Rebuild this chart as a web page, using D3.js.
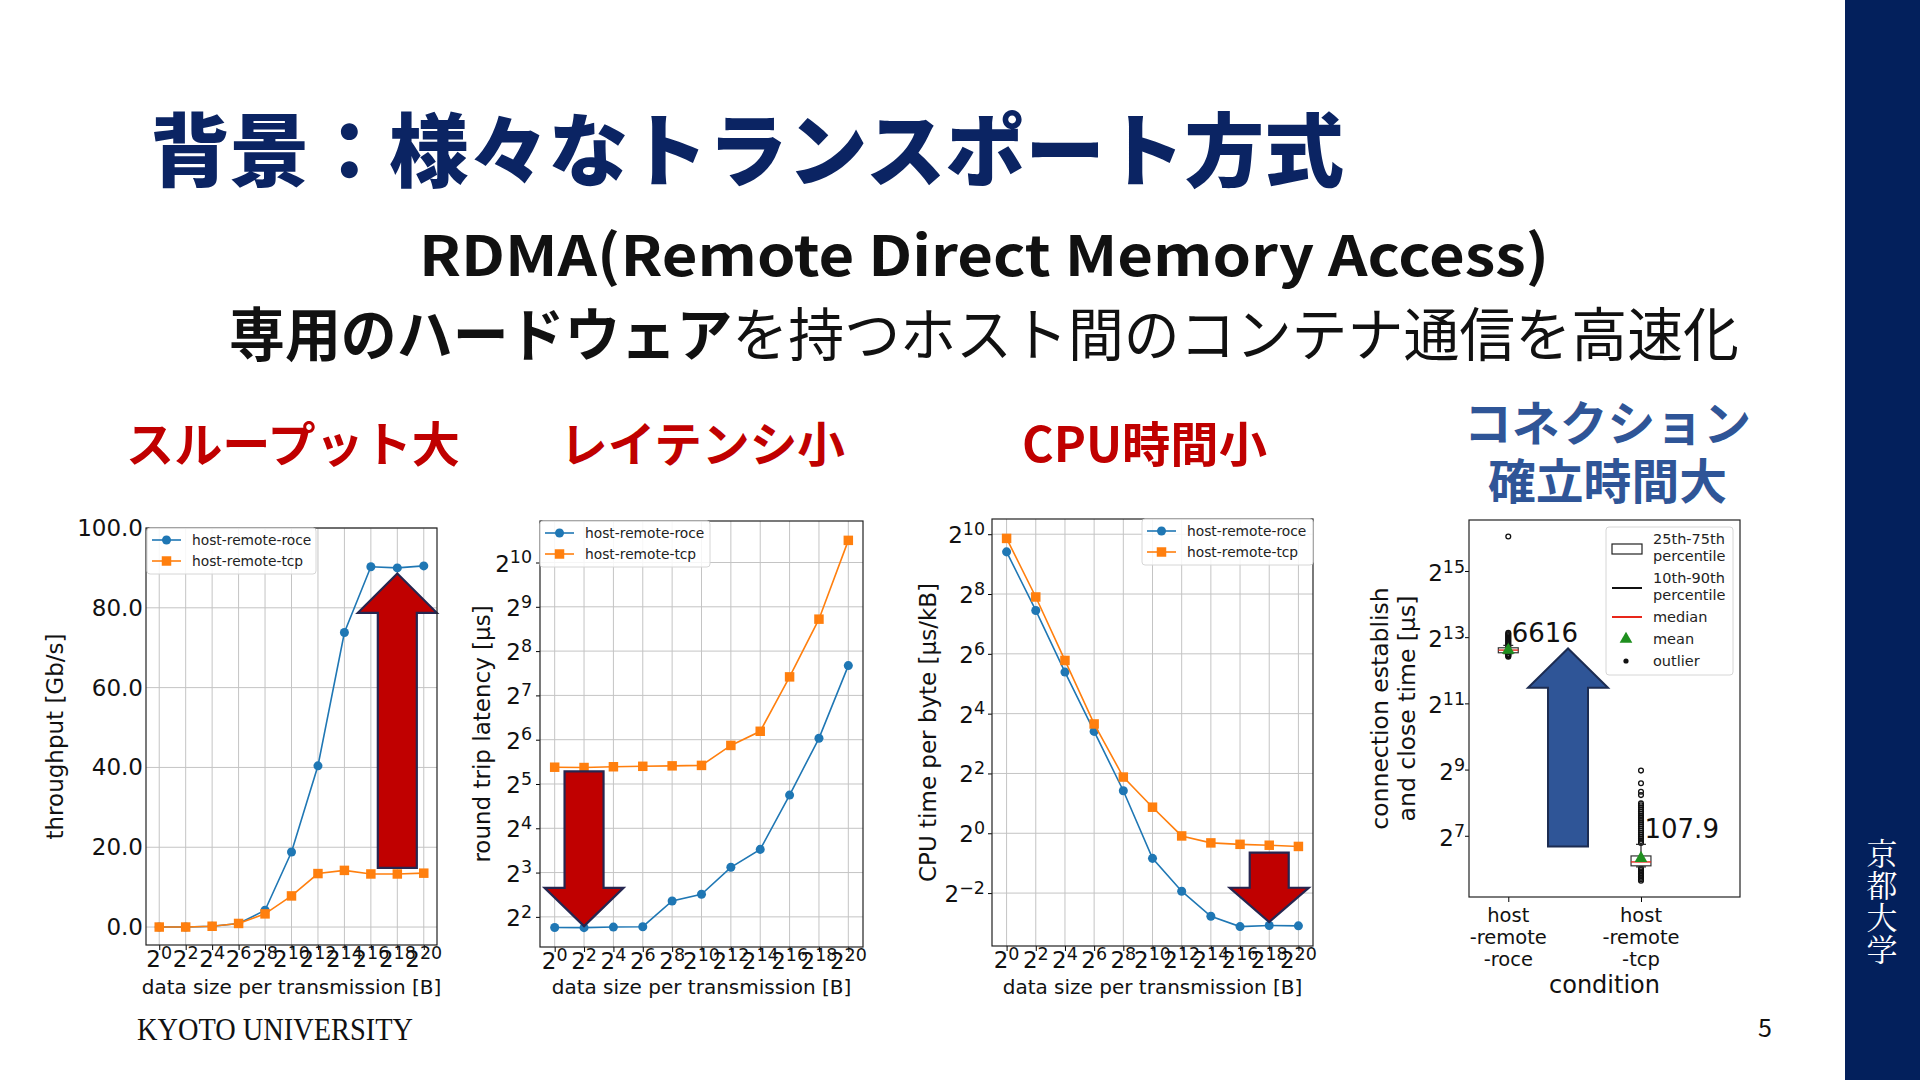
<!DOCTYPE html>
<html>
<head>
<meta charset="utf-8">
<script src="https://cdn.jsdelivr.net/npm/d3@7"></script>
<style>
  body { margin: 0; background: #fff; }
  svg { display: block; }
</style>
</head>
<body>
<svg id="slide" width="1920" height="1080"></svg>
<script>
// ---- data ----
const dataSizes = [1, 4, 16, 64, 256, 1024, 4096, 16384, 65536, 262144, 1048576];
const sizeExps = [0, 2, 4, 6, 8, 10, 12, 14, 16, 18, 20];
const seriesNames = ["host-remote-roce", "host-remote-tcp"];

const throughputRoce = [0.0, 0.0, 0.2, 0.9, 4.2, 18.8, 40.4, 73.8, 90.3, 90.0, 90.5];
const throughputTcp = [0.0, 0.0, 0.2, 0.9, 3.3, 7.8, 13.4, 14.2, 13.3, 13.3, 13.5];
const throughputTicks = [0, 20, 40, 60, 80, 100];

const latencyRoce = [3.39, 3.38, 3.41, 3.43, 5.13, 5.70, 8.69, 11.5, 26.9, 65.4, 204];
const latencyTcp = [41.6, 41.4, 41.9, 42.2, 42.5, 42.8, 58.5, 73.0, 171, 422, 1448];
const latencyTickExps = [2, 3, 4, 5, 6, 7, 8, 9, 10];

const cpuRoce = [680, 175, 41.9, 10.6, 2.68, 0.559, 0.261, 0.146, 0.115, 0.118, 0.117];
const cpuTcp = [929, 239, 54.9, 12.6, 3.68, 1.83, 0.94, 0.80, 0.774, 0.758, 0.737];
const cpuTickExps = [-2, 0, 2, 4, 6, 8, 10];

const boxCategories = [["host", "-remote", "-roce"], ["host", "-remote", "-tcp"]];
const boxQ1 = [5910, 68.2];
const boxQ3 = [6560, 83.9];
const boxMedian = [6250, 74];
const boxWhiskerLo = [5800, 66.7];
const boxWhiskerHi = [6900, 107];
const boxMeanMarker = [6250, 80];
const boxMeanText = ["6616", "107.9"];
const boxMeanValue = [6616, 107.9];
const roceOutliers = [67400, 8960, 8750, 8550, 8350, 8150, 7950, 7760, 7580, 7400, 7220, 7050, 6880, 6720,
  5800, 5700, 5600, 5520, 5440];
const tcpOutliers = [64.5, 62.5, 60.5, 58.5, 56.5, 54.7, 53, 51.5, 50,
  110, 115, 120, 125, 131, 137, 143, 149, 156, 163, 170, 178, 186, 194, 203, 212, 222, 232, 242, 252,
  300, 322, 385, 501];
const boxTickExps = [7, 9, 11, 13, 15];

const colors = { roce: "#1f77b4", tcp: "#ff7f0e", navy: "#0b2463", red: "#c00000", blue: "#2f5597" };
const jp = "'Noto Sans CJK JP', sans-serif";
const dv = "'DejaVu Sans', sans-serif";

const svg = d3.select("#slide");
svg.append("rect").attr("width", 1920).attr("height", 1080).attr("fill", "#fff");

// right band
svg.append("rect").attr("x", 1845).attr("y", 0).attr("width", 75).attr("height", 1080).attr("fill", "#03205c");
const kyoto = svg.append("text").attr("fill", "#fff").attr("font-family", "'Noto Serif CJK JP', " + jp)
  .attr("font-size", 31).attr("text-anchor", "middle");
["京", "都", "大", "学"].forEach((c, i) => {
  kyoto.append("tspan").attr("x", 1882).attr("y", 865 + i * 32).text(c);
});

// headings
svg.append("text").attr("x", 150).attr("y", 145).attr("dominant-baseline", "central")
  .attr("font-family", jp).attr("font-weight", 900).attr("font-size", 80).attr("fill", colors.navy)
  .attr("textLength", 1194).attr("lengthAdjust", "spacingAndGlyphs")
  .text("背景：様々なトランスポート方式");

svg.append("text").attr("x", 984).attr("y", 251).attr("dominant-baseline", "central").attr("text-anchor", "middle")
  .attr("font-family", jp).attr("font-weight", 700).attr("font-size", 56).attr("fill", "#111")
  .attr("textLength", 1130).attr("lengthAdjust", "spacingAndGlyphs")
  .text("RDMA(Remote Direct Memory Access)");

const sub = svg.append("text").attr("x", 229).attr("y", 331).attr("dominant-baseline", "central")
  .attr("font-family", jp).attr("font-size", 58).attr("fill", "#111")
  .attr("textLength", 1510).attr("lengthAdjust", "spacingAndGlyphs");
sub.append("tspan").attr("font-weight", 700).text("専用のハードウェア");
sub.append("tspan").attr("font-weight", 400).text("を持つホスト間のコンテナ通信を高速化");

const heads = [
  { t: "スループット大", x: 126, y: 441, w: 334, c: colors.red },
  { t: "レイテンシ小", x: 560, y: 441, w: 285, c: colors.red },
  { t: "CPU時間小", x: 1022, y: 441, w: 245, c: colors.red },
  { t: "コネクション", x: 1464, y: 420, w: 287, c: colors.blue },
  { t: "確立時間大", x: 1488, y: 478, w: 239, c: colors.blue }
];
heads.forEach(h => {
  svg.append("text").attr("x", h.x).attr("y", h.y).attr("dominant-baseline", "central")
    .attr("font-family", jp).attr("font-weight", 700).attr("font-size", 48).attr("fill", h.c)
    .attr("textLength", h.w).attr("lengthAdjust", "spacingAndGlyphs").text(h.t);
});

svg.append("text").attr("x", 137).attr("y", 1040).attr("font-family", "'Liberation Serif', serif")
  .attr("font-size", 31).attr("fill", "#111").attr("textLength", 276).attr("lengthAdjust", "spacingAndGlyphs")
  .text("KYOTO UNIVERSITY");
svg.append("text").attr("x", 1765).attr("y", 1037).attr("text-anchor", "middle").attr("font-family", jp)
  .attr("font-size", 25).attr("fill", "#111").text("5");

// ---- helpers ----
// "2" with a raised exponent, like matplotlib's mathtext tick labels
function powLabel(text, exp, fs) {
  text.append("tspan").text("2");
  text.append("tspan").attr("font-size", fs * 0.76).attr("dy", -fs * 0.36)
    .text(String(exp).replace("-", "\u2212"));
}

function arrowPath(cx, yTail, yBase, yTip, shaftW, headW) {
  return `M${cx - shaftW / 2},${yTail} L${cx - shaftW / 2},${yBase} L${cx - headW / 2},${yBase} ` +
    `L${cx},${yTip} L${cx + headW / 2},${yBase} L${cx + shaftW / 2},${yBase} L${cx + shaftW / 2},${yTail} Z`;
}

function lineChart(cfg) {
  const { l, r, t, b } = cfg.box;
  const g = svg.append("g");
  const x = d3.scaleLog().base(2).domain([2 ** -1, 2 ** 21]).range([l, r]);
  let y;
  if (cfg.log) {
    const all = cfg.series.flatMap(s => s.values).map(Math.log2);
    const lo = d3.min(all), hi = d3.max(all), pad = (hi - lo) * 0.05;
    y = d3.scaleLog().base(2).domain([2 ** (lo - pad), 2 ** (hi + pad)]).range([b, t]);
  } else {
    y = d3.scaleLinear().domain(cfg.yDomain).range([b, t]);
  }
  const yTickVals = cfg.log ? cfg.yTickExps.map(e => 2 ** e) : cfg.yTicks;

  // grid
  g.append("g").selectAll("line").data(dataSizes).join("line")
    .attr("x1", d => x(d)).attr("x2", d => x(d)).attr("y1", t).attr("y2", b)
    .attr("stroke", "#c4c4c4").attr("stroke-width", 1);
  g.append("g").selectAll("line").data(yTickVals).join("line")
    .attr("x1", l).attr("x2", r).attr("y1", d => y(d)).attr("y2", d => y(d))
    .attr("stroke", "#c4c4c4").attr("stroke-width", 1);

  // axes (tick marks only, labels below)
  g.append("g").attr("transform", `translate(0,${b})`)
    .call(d3.axisBottom(x).tickValues(dataSizes).tickSize(5).tickFormat(() => ""))
    .call(a => a.select(".domain").remove());
  g.append("g").attr("transform", `translate(${l},0)`)
    .call(d3.axisLeft(y).tickValues(yTickVals).tickSize(cfg.yTickLen).tickFormat(() => ""))
    .call(a => a.select(".domain").remove());

  // x tick labels
  dataSizes.forEach((d, i) => {
    const tx = g.append("text").attr("x", x(d)).attr("y", b + 22).attr("text-anchor", "middle")
      .attr("font-family", dv).attr("font-size", 23).attr("fill", "#111");
    powLabel(tx, sizeExps[i], 23);
  });
  // y tick labels
  yTickVals.forEach((d, i) => {
    const ty = g.append("text").attr("x", l - cfg.yLabelGap).attr("text-anchor", "end")
      .attr("font-family", dv).attr("font-size", 23).attr("fill", "#111");
    if (cfg.log) {
      ty.attr("y", y(d) + 9);
      powLabel(ty, cfg.yTickExps[i], 23);
    } else {
      ty.attr("y", y(d) + 8).text(d3.format(".1f")(d));
    }
  });

  // axis titles
  g.append("text").attr("x", (l + r) / 2).attr("y", 987).attr("dominant-baseline", "central")
    .attr("text-anchor", "middle").attr("font-family", dv).attr("font-size", 20).attr("fill", "#111")
    .text("data size per transmission [B]");
  g.append("text").attr("transform", `translate(${cfg.yTitleX},${(t + b) / 2}) rotate(-90)`)
    .attr("dominant-baseline", "central").attr("text-anchor", "middle")
    .attr("font-family", dv).attr("font-size", 23).attr("fill", "#111").text(cfg.yTitle);

  // series
  const line = d3.line().x((d, i) => x(dataSizes[i])).y(d => y(d));
  cfg.series.forEach(s => {
    g.append("path").attr("d", line(s.values)).attr("fill", "none")
      .attr("stroke", s.color).attr("stroke-width", 1.6);
    const m = g.append("g").selectAll("path").data(s.values).join("path")
      .attr("transform", (d, i) => `translate(${x(dataSizes[i])},${y(d)})`)
      .attr("fill", s.color);
    if (s.marker === "circle") m.attr("d", d3.symbol(d3.symbolCircle, 64)());
    else m.attr("d", d3.symbol(d3.symbolSquare, 90)());
  });

  // arrow annotation
  const a = cfg.arrow;
  g.append("path")
    .attr("d", arrowPath(x(a.at), y(a.tail), y(a.base), y(a.tip), 39, 79))
    .attr("fill", a.fill).attr("stroke", "#262650").attr("stroke-width", 2.2);

  // frame
  g.append("rect").attr("x", l).attr("y", t).attr("width", r - l).attr("height", b - t)
    .attr("fill", "none").attr("stroke", "#222").attr("stroke-width", 1.2);

  // legend
  const L = cfg.legend;
  const lg = g.append("g").attr("transform", `translate(${L.x},${L.y})`);
  lg.append("rect").attr("width", L.w).attr("height", 46).attr("rx", 3)
    .attr("fill", "#fff").attr("fill-opacity", 0.85).attr("stroke", "#d6d6d6");
  cfg.series.forEach((s, i) => {
    const yy = 12 + i * 21;
    lg.append("line").attr("x1", 5).attr("x2", 34).attr("y1", yy).attr("y2", yy)
      .attr("stroke", s.color).attr("stroke-width", 1.6);
    lg.append("path").attr("transform", `translate(19.5,${yy})`).attr("fill", s.color)
      .attr("d", d3.symbol(s.marker === "circle" ? d3.symbolCircle : d3.symbolSquare, s.marker === "circle" ? 64 : 90)());
    lg.append("text").attr("x", 45).attr("y", yy).attr("dominant-baseline", "central")
      .attr("font-family", dv).attr("font-size", 13.8).attr("fill", "#222").text(seriesNames[i]);
  });
}

const seriesOf = (roce, tcp) => [
  { values: roce, color: colors.roce, marker: "circle" },
  { values: tcp, color: colors.tcp, marker: "square" }
];

lineChart({
  box: { l: 146, r: 437, t: 528, b: 945 }, log: false, yDomain: [-4.5, 100], yTicks: throughputTicks,
  yTickLen: 0, yLabelGap: 3, yTitle: "throughput [Gb/s]", yTitleX: 55,
  series: seriesOf(throughputRoce, throughputTcp),
  legend: { x: 147, y: 528, w: 169 },
  arrow: { at: 2 ** 18, tail: 14.85, base: 78.75, tip: 88.6, fill: colors.red }
});

lineChart({
  box: { l: 540, r: 863, t: 521, b: 947 }, log: true, yTickExps: latencyTickExps,
  yTickLen: 4, yLabelGap: 8, yTitle: "round trip latency [μs]", yTitleX: 482,
  series: seriesOf(latencyRoce, latencyTcp),
  legend: { x: 540, y: 521, w: 170 },
  arrow: { at: 4, tail: 39, base: 6.3, tip: 3.46, fill: colors.red }
});

lineChart({
  box: { l: 992, r: 1313, t: 519, b: 946 }, log: true, yTickExps: cpuTickExps,
  yTickLen: 4, yLabelGap: 7, yTitle: "CPU time per byte [μs/kB]", yTitleX: 928,
  series: seriesOf(cpuRoce, cpuTcp),
  legend: { x: 1142, y: 519, w: 171 },
  arrow: { at: 2 ** 18, tail: 0.64, base: 0.283, tip: 0.128, fill: colors.red }
});

// ---- box plot ----
(function boxChart() {
  const l = 1469, r = 1740, t = 520, b = 897;
  const g = svg.append("g");
  const x = d3.scaleLinear().domain([0.704, 2.746]).range([l, r]);
  const y = d3.scaleLog().base(2).domain([2 ** 5.15, 2 ** 16.54]).range([b, t]);
  const yTickVals = boxTickExps.map(e => 2 ** e);

  g.append("g").attr("transform", `translate(0,${b})`)
    .call(d3.axisBottom(x).tickValues([1, 2]).tickSize(5).tickFormat(() => ""))
    .call(a => a.select(".domain").remove());
  g.append("g").attr("transform", `translate(${l},0)`)
    .call(d3.axisLeft(y).tickValues(yTickVals).tickSize(4).tickFormat(() => ""))
    .call(a => a.select(".domain").remove());

  yTickVals.forEach((d, i) => {
    const ty = g.append("text").attr("x", l - 4).attr("y", y(d) + 10).attr("text-anchor", "end")
      .attr("font-family", dv).attr("font-size", 23).attr("fill", "#111");
    powLabel(ty, boxTickExps[i], 23);
  });
  boxCategories.forEach((lines, i) => {
    const tx = g.append("text").attr("text-anchor", "middle").attr("font-family", dv)
      .attr("font-size", 19.5).attr("fill", "#111");
    lines.forEach((s, k) => tx.append("tspan").attr("x", x(i + 1)).attr("y", 922 + k * 22).text(s));
  });
  g.append("text").attr("x", (l + r) / 2).attr("y", 993).attr("text-anchor", "middle")
    .attr("font-family", dv).attr("font-size", 24).attr("fill", "#111").text("condition");
  const yt = g.append("text").attr("transform", `translate(1380,${(t + b) / 2}) rotate(-90)`)
    .attr("text-anchor", "middle").attr("dominant-baseline", "central")
    .attr("font-family", dv).attr("font-size", 23.5).attr("fill", "#111");
  yt.append("tspan").attr("x", 0).attr("y", 0).text("connection establish");
  yt.append("tspan").attr("x", 0).attr("y", 27).text("and close time [μs]");

  const outliers = [roceOutliers, tcpOutliers];
  const bw = 0.15, cw = 0.075;
  [0, 1].forEach(i => {
    const cx = x(i + 1);
    // fliers
    g.append("g").selectAll("circle").data(outliers[i]).join("circle")
      .attr("cx", cx).attr("cy", d => y(d)).attr("r", 2.4)
      .attr("fill", "none").attr("stroke", "#111").attr("stroke-width", 1.3);
    // whiskers
    g.append("line").attr("x1", cx).attr("x2", cx).attr("y1", y(boxQ3[i])).attr("y2", y(boxWhiskerHi[i]))
      .attr("stroke", "#222").attr("stroke-width", 1.2);
    g.append("line").attr("x1", cx).attr("x2", cx).attr("y1", y(boxQ1[i])).attr("y2", y(boxWhiskerLo[i]))
      .attr("stroke", "#222").attr("stroke-width", 1.2);
    [boxWhiskerHi[i], boxWhiskerLo[i]].forEach(v => {
      g.append("line").attr("x1", x(i + 1 - cw / 2)).attr("x2", x(i + 1 + cw / 2))
        .attr("y1", y(v)).attr("y2", y(v)).attr("stroke", "#222").attr("stroke-width", 1.2);
    });
    // box
    g.append("rect").attr("x", x(i + 1 - bw / 2)).attr("width", x(i + 1 + bw / 2) - x(i + 1 - bw / 2))
      .attr("y", y(boxQ3[i])).attr("height", y(boxQ1[i]) - y(boxQ3[i]))
      .attr("fill", "#fff").attr("stroke", "#333").attr("stroke-width", 1.2);
    g.append("line").attr("x1", x(i + 1 - bw / 2)).attr("x2", x(i + 1 + bw / 2))
      .attr("y1", y(boxMedian[i])).attr("y2", y(boxMedian[i])).attr("stroke", "#e8261a").attr("stroke-width", 1.4);
    g.append("path").attr("transform", `translate(${cx},${y(boxMeanMarker[i])})`)
      .attr("d", d3.symbol(d3.symbolTriangle, 70)()).attr("fill", "#1f8f1f");
    g.append("text").attr("x", cx + 3.5).attr("y", y(boxMeanValue[i]) - 5.5)
      .attr("font-family", dv).attr("font-size", 26).attr("fill", "#111").text(boxMeanText[i]);
  });

  // arrow annotation
  g.append("path").attr("d", arrowPath(x(1.45), y(102), y(2840), y(6470), 40, 80))
    .attr("fill", colors.blue).attr("stroke", "#1c2c52").attr("stroke-width", 2);

  g.append("rect").attr("x", l).attr("y", t).attr("width", r - l).attr("height", b - t)
    .attr("fill", "none").attr("stroke", "#222").attr("stroke-width", 1.2);

  // legend
  const lg = g.append("g").attr("transform", "translate(1606,527)");
  lg.append("rect").attr("width", 127).attr("height", 148).attr("rx", 3)
    .attr("fill", "#fff").attr("stroke", "#d6d6d6");
  lg.append("rect").attr("x", 6).attr("y", 17).attr("width", 30).attr("height", 10)
    .attr("fill", "none").attr("stroke", "#222").attr("stroke-width", 1.2);
  lg.append("line").attr("x1", 6).attr("x2", 36).attr("y1", 61).attr("y2", 61)
    .attr("stroke", "#111").attr("stroke-width", 2);
  lg.append("line").attr("x1", 6).attr("x2", 36).attr("y1", 90).attr("y2", 90)
    .attr("stroke", "#e8261a").attr("stroke-width", 2);
  lg.append("path").attr("transform", "translate(20,112)").attr("d", d3.symbol(d3.symbolTriangle, 70)())
    .attr("fill", "#1f8f1f");
  lg.append("circle").attr("cx", 20).attr("cy", 134).attr("r", 2.6).attr("fill", "#111");
  const legendLines = [["25th-75th", 12], ["percentile", 29], ["10th-90th", 51], ["percentile", 68],
    ["median", 90], ["mean", 112], ["outlier", 134]];
  legendLines.forEach(([s, yy]) => {
    lg.append("text").attr("x", 47).attr("y", yy).attr("dominant-baseline", "central")
      .attr("font-family", dv).attr("font-size", 14.5).attr("fill", "#222").text(s);
  });
})();
</script>
</body>
</html>
